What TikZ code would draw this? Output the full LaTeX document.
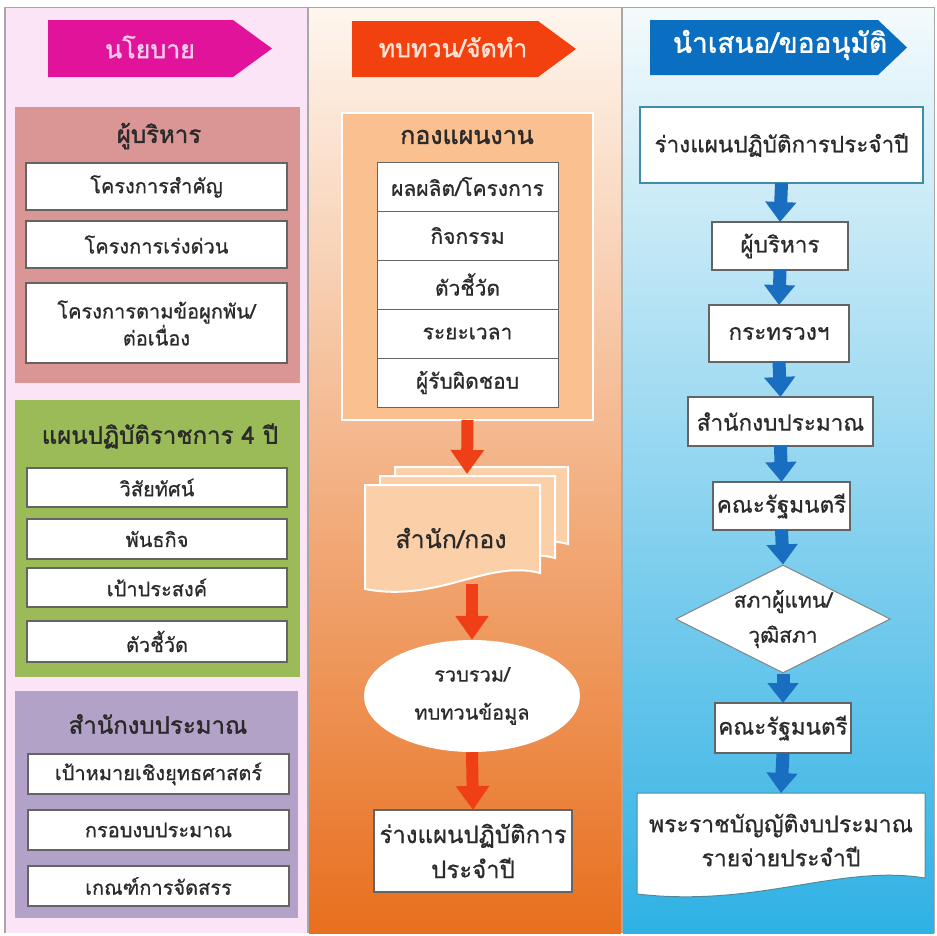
\documentclass[tikz,border=0pt]{standalone}
\usepackage{fontspec}
\newfontfamily\thai[Script=Thai,FakeBold=0.7]{Loma}
\newfontfamily\thaihead[Script=Thai,FakeBold=1.4]{Loma}
\usetikzlibrary{shapes.geometric,arrows.meta}

\definecolor{panelpink}{HTML}{FBE4F5}
\definecolor{rulegray}{HTML}{A8A8A8}
\definecolor{headmagenta}{HTML}{E1139A}
\definecolor{headmagentatext}{HTML}{F8CBEA}
\definecolor{headred}{HTML}{F2410F}
\definecolor{headredtext}{HTML}{FFE2D4}
\definecolor{headblue}{HTML}{0A6EC1}
\definecolor{rose}{HTML}{D99694}
\definecolor{olive}{HTML}{9BBB59}
\definecolor{lavender}{HTML}{B3A2C7}
\definecolor{peach}{HTML}{FAC090}
\definecolor{peachlight}{HTML}{FBCFA8}
\definecolor{flowred}{HTML}{EE3F16}
\definecolor{flowblue}{HTML}{1A6EBF}
\definecolor{boxedge}{HTML}{646464}
\definecolor{tealedge}{HTML}{3F8DA6}
\definecolor{inktext}{HTML}{2A2A2A}
\definecolor{orangetop}{HTML}{FEF6EE}
\definecolor{orangemid}{HTML}{F8C497}
\definecolor{orangebot}{HTML}{E86F1E}
\definecolor{bluetop}{HTML}{F4FAFC}
\definecolor{bluemid}{HTML}{C3E5F4}
\definecolor{bluebot}{HTML}{2FB1E4}

\newcommand\stackdoc[4]{% x1 y1 x2 yb : sheet with a wavy lower edge
  (#1,#2) -- (#3,#2) -- (#3,#4-16)
  .. controls ({#3-0.3*(#3-#1)},#4-30) and ({#1+0.42*(#3-#1)},#4+14) .. (#1,#4) -- cycle}

\tikzset{
  group/.style={inner sep=0pt, outer sep=0pt},
  grouptitle/.style={inner sep=0pt, font=\thaihead\fontsize{24}{27}\selectfont, text=inktext},
  item/.style={draw=boxedge, line width=1.3pt, fill=white, inner sep=0pt, outer sep=0pt,
    align=center, text=inktext, font=\thai\fontsize{20}{27}\selectfont},
  tableitem/.style={item, line width=1pt, font=\thai\fontsize{21}{24}\selectfont},
  stepitem/.style={item, font=\thai\fontsize{22.5}{26}\selectfont},
  bigitem/.style={item, font=\thai\fontsize{24}{35}\selectfont},
  headtext/.style={inner sep=0pt, font=\thaihead\fontsize{25}{28}\selectfont},
  redflow/.style={draw=flowred, line width=12pt, -{Triangle[width=32pt,length=24pt]}},
  blueflow/.style={draw=flowblue, line width=13pt, -{Triangle[width=30pt,length=20pt]}},
}

\begin{document}
\begin{tikzpicture}[x=1pt,y=-1pt]
\useasboundingbox (0,0) rectangle (937,935);
\fill[white] (0,0) rectangle (937,935);

% three column panels
\fill[panelpink] (5,8) rectangle (307,933);
\shade[top color=orangetop, middle color=orangemid, bottom color=orangebot] (309,8) rectangle (621,933);
\shade[top color=bluetop, middle color=bluemid, bottom color=bluebot] (623,8) rectangle (934,933);
\draw[rulegray, line width=1pt] (5,7) -- (934,7);
\draw[rulegray, line width=1.5pt] (5,7) -- (5,933);
\draw[rulegray, line width=2pt] (308,7) -- (308,933);
\draw[rulegray, line width=2pt] (622,7) -- (622,933);
\draw[rulegray, line width=1pt] (934,7) -- (934,933);

% stage banners
\fill[headmagenta] (48,20) -- (233,20) -- (272,48.5) -- (233,77) -- (48,77) -- cycle;
\node[headtext, text=headmagentatext] (hpolicy) at (150,47) {นโยบาย};
\fill[headred] (352,21) -- (538,21) -- (576,49) -- (538,77) -- (352,77) -- cycle;
\node[headtext, text=headredtext] (hreview) at (453,47) {ทบทวน/จัดทำ};
\fill[headblue] (650,20) -- (878,20) -- (907,47.5) -- (878,75) -- (650,75) -- cycle;
\node[headtext, text=white, font=\thaihead\fontsize{28}{30}\selectfont] (hsubmit) at (780,45) {นำเสนอ/ขออนุมัติ};

% --- policy column ---
\node[group, fill=rose, minimum width=285pt, minimum height=276pt] (exec) at (157.5,245) {};
\node[grouptitle] (exect) at (159,136) {ผู้บริหาร};
\node[item, minimum width=261pt, minimum height=47pt] (p1) at (156.5,186.5) {โครงการสำคัญ};
\node[item, minimum width=261pt, minimum height=47pt] (p2) at (156.5,244.5) {โครงการเร่งด่วน};
\node[item, minimum width=261pt, minimum height=80pt] (p3) at (156.5,323) {โครงการตามข้อผูกพัน/\\ต่อเนื่อง};

\node[group, fill=olive, minimum width=285pt, minimum height=277pt] (plan4) at (157.5,538.5) {};
\node[grouptitle] (plan4t) at (160,436) {แผนปฏิบัติราชการ 4 ปี};
\node[item, minimum width=260pt, minimum height=39pt] (v1) at (157,487.5) {วิสัยทัศน์};
\node[item, minimum width=260pt, minimum height=40pt] (v2) at (157,539) {พันธกิจ};
\node[item, minimum width=260pt, minimum height=39pt] (v3) at (157,587.5) {เป้าประสงค์};
\node[item, minimum width=260pt, minimum height=41pt] (v4) at (157,641.5) {ตัวชี้วัด};

\node[group, fill=lavender, minimum width=283pt, minimum height=227pt] (budget) at (156.5,804.5) {};
\node[grouptitle] (budgett) at (158,724) {สำนักงบประมาณ};
\node[item, minimum width=261pt, minimum height=40pt] (b1) at (158.5,774) {เป้าหมายเชิงยุทธศาสตร์};
\node[item, minimum width=261pt, minimum height=40pt] (b2) at (158.5,830) {กรอบงบประมาณ};
\node[item, minimum width=261pt, minimum height=40pt] (b3) at (158.5,886) {เกณฑ์การจัดสรร};

% --- review column ---
\node[group, fill=peach, draw=white, line width=2pt, minimum width=251pt, minimum height=307pt] (plandiv) at (467.5,266.5) {};
\node[grouptitle, font=\thaihead\fontsize{25}{28}\selectfont] (plandivt) at (467,137) {กองแผนงาน};
\node[tableitem, minimum width=181pt, minimum height=49pt] (r1) at (467.5,186.5) {ผลผลิต/โครงการ};
\node[tableitem, minimum width=181pt, minimum height=49pt] (r2) at (467.5,235.5) {กิจกรรม};
\node[tableitem, minimum width=181pt, minimum height=49pt] (r3) at (467.5,284.5) {ตัวชี้วัด};
\node[tableitem, minimum width=181pt, minimum height=49pt] (r4) at (467.5,333.5) {ระยะเวลา};
\node[tableitem, minimum width=181pt, minimum height=49pt] (r5) at (467.5,382.5) {ผู้รับผิดชอบ};

% stacked sheets for the offices
\filldraw[fill=peachlight, draw=white, line width=2pt] \stackdoc{395}{467}{568}{560};
\filldraw[fill=peachlight, draw=white, line width=2pt] \stackdoc{380}{476}{555}{574};
\filldraw[fill=peachlight, draw=white, line width=2pt] \stackdoc{365}{485}{540}{589};
\node[inner sep=0pt, font=\thai\fontsize{25}{28}\selectfont, text=inktext] (offices) at (451,538) {สำนัก/กอง};
\coordinate (stacktop) at (467,474);
\coordinate (stackbot) at (472,584);

\node[ellipse, fill=white, inner sep=0pt, minimum width=216pt, minimum height=112pt,
  align=center, text=inktext, font=\thai\fontsize{20}{38}\selectfont] (collect) at (472,696) {รวบรวม/\\ทบทวนข้อมูล};
\node[bigitem, minimum width=198pt, minimum height=82pt] (draftA) at (473,851) {ร่างแผนปฏิบัติการ\\ประจำปี};

\draw[redflow] (plandiv.south) -- (stacktop);
\draw[redflow] (stackbot) -- (collect.north);
\draw[redflow] (collect.south) -- (draftA.north);

% --- approval column ---
\node[item, draw=tealedge, line width=2pt, minimum width=283pt, minimum height=76pt,
  font=\thai\fontsize{22.5}{26}\selectfont] (s1) at (781.5,145) {ร่างแผนปฏิบัติการประจำปี};
\node[stepitem, minimum width=136pt, minimum height=48pt] (s2) at (780,246) {ผู้บริหาร};
\node[stepitem, minimum width=140pt, minimum height=57pt] (s3) at (779,333.5) {กระทรวงฯ};
\node[stepitem, minimum width=185pt, minimum height=49pt] (s4) at (780.5,421.5) {สำนักงบประมาณ};
\node[stepitem, minimum width=137pt, minimum height=48pt] (s5) at (781.5,506) {คณะรัฐมนตรี};
\node[diamond, draw=boxedge!80, line width=1pt, fill=white, inner sep=0pt, shape aspect=2,
  minimum width=212pt, minimum height=108pt, align=center, text=inktext,
  font=\thai\fontsize{21}{35}\selectfont] (s6) at (783,619) {สภาผู้แทน/\\วุฒิสภา};
\node[stepitem, minimum width=136pt, minimum height=50pt] (s7) at (783,728) {คณะรัฐมนตรี};

\filldraw[fill=white, draw=tealedge!70!gray, line width=1pt] \stackdoc{637}{793}{925}{894};
\node[inner sep=0pt, align=center, text=inktext, font=\thai\fontsize{23}{34}\selectfont] (act) at (781,840) {พระราชบัญญัติงบประมาณ\\รายจ่ายประจำปี};
\coordinate (acttop) at (781,793);

\draw[blueflow] (s1.south) -- (s2.north);
\draw[blueflow] (s2.south) -- (s3.north);
\draw[blueflow] (s3.south) -- (s4.north);
\draw[blueflow] (s4.south) -- (s5.north);
\draw[blueflow] (s5.south) -- (s6.north);
\draw[blueflow] (s6.south) -- (s7.north);
\draw[blueflow] (s7.south) -- (acttop);
\end{tikzpicture}
\end{document}
